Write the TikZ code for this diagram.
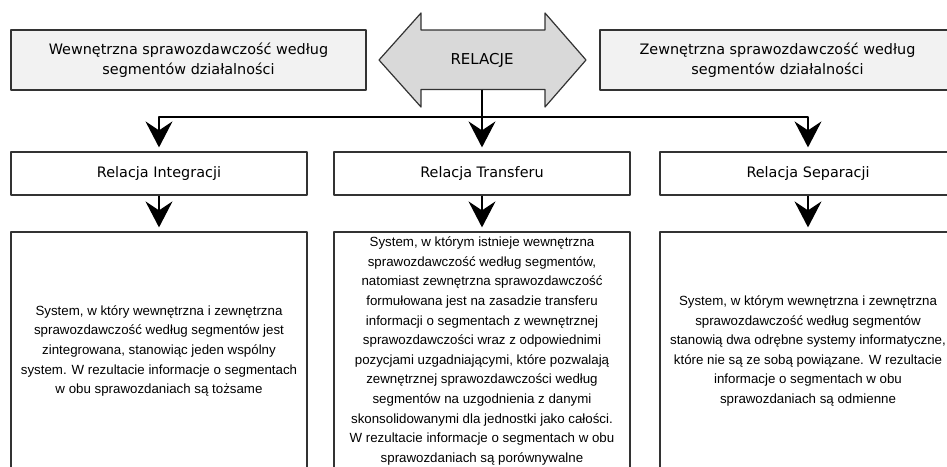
\documentclass[tikz,border=0pt]{standalone}
\usepackage{fontspec}
\setmainfont{Liberation Sans}
\newfontfamily\headfont{DejaVu Sans}
\usetikzlibrary{arrows.meta}
\definecolor{boxfill}{HTML}{F2F2F2}
\definecolor{arrowfill}{HTML}{D9D9D9}
\definecolor{edgegray}{HTML}{333333}

\begin{document}
\begin{tikzpicture}[x=1pt, y=-1pt, line join=round,
    sidebox/.style={draw=edgegray, line width=1.2pt, fill=boxfill, minimum width=355pt, minimum height=60pt, align=center, font=\headfont\fontsize{14.4}{20}\selectfont},
    kindbox/.style={draw=edgegray, line width=1.2pt, minimum width=296pt, minimum height=43pt, font=\headfont\fontsize{14.4}{20}\selectfont},
    textbox/.style={draw=edgegray, line width=1.2pt, minimum width=296pt, minimum height=238pt, align=center, font=\fontsize{13.3}{19.6}\selectfont},
    flow/.style={line width=1.3pt, -{Stealth[length=26pt,width=27pt,inset=9pt]}, shorten >=4pt}]
  \useasboundingbox (0,0) rectangle (947,466);
  \clip (0,0) rectangle (947,466);

  \node[sidebox] (inner) at (188.5,60) {Wewnętrzna sprawozdawczość według\\segmentów działalności};
  \node[sidebox] (outer) at (777.5,60) {Zewnętrzna sprawozdawczość według\\segmentów działalności};
  \draw[draw=edgegray, fill=arrowfill, line width=1.2pt] (379,60) -- (421,13) -- (421,30) -- (545,30) -- (545,13)
    -- (586,60) -- (545,107) -- (545,89.5) -- (421,89.5) -- (421,107) -- cycle;
  \node[inner sep=0pt, minimum width=124pt, minimum height=59pt,
        font=\headfont\fontsize{15}{18}\selectfont] (rel) at (482,60) {RELACJE};

  \node[kindbox] (integ) at (159,173.5) {Relacja Integracji};
  \node[kindbox] (transf) at (482,173.5) {Relacja Transferu};
  \node[kindbox] (separ) at (808,173.5) {Relacja Separacji};

  \node[textbox] (descint) at (159,351) {System, w który wewnętrzna i zewnętrzna\\
    sprawozdawczość według segmentów jest\\
    zintegrowana, stanowiąc jeden wspólny\\
    system. W rezultacie informacje o segmentach\\
    w obu sprawozdaniach są tożsame};
  \node[textbox] (desctr) at (482,351) {System, w którym istnieje wewnętrzna\\
    sprawozdawczość według segmentów,\\
    natomiast zewnętrzna sprawozdawczość\\
    formułowana jest na zasadzie transferu\\
    informacji o segmentach z wewnętrznej\\
    sprawozdawczości wraz z odpowiednimi\\
    pozycjami uzgadniającymi, które pozwalają\\
    zewnętrznej sprawozdawczości według\\
    segmentów na uzgodnienia z danymi\\
    skonsolidowanymi dla jednostki jako całości.\\
    W rezultacie informacje o segmentach w obu\\
    sprawozdaniach są porównywalne};
  \node[textbox] (descsep) at (808,351) {System, w którym wewnętrzna i zewnętrzna\\
    sprawozdawczość według segmentów\\
    stanowią dwa odrębne systemy informatyczne,\\
    które nie są ze sobą powiązane. W rezultacie\\
    informacje o segmentach w obu\\
    sprawozdaniach są odmienne};

  \coordinate (split) at (482,117);
  \draw[flow] (rel) -- (transf);
  \draw[flow] (split) -| (integ);
  \draw[flow] (split) -| (separ);
  \draw[flow] (integ) -- (descint);
  \draw[flow] (transf) -- (desctr);
  \draw[flow] (separ) -- (descsep);
\end{tikzpicture}
\end{document}
